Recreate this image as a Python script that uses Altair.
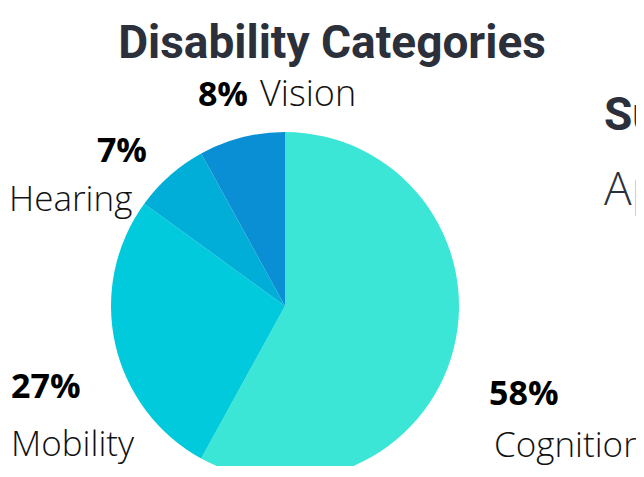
import altair as alt
import pandas as pd

categories = ["Cognition", "Mobility", "Hearing", "Vision"]
values = [58, 27, 7, 8]
pct_labels = ["58%", "27%", "7%", "8%"]
colors = ["#3CE6D6", "#00CADB", "#01AED8", "#0A8FD5"]
title_text = "Disability Categories"
side_texts = ["Su", "Ap"]

df = pd.DataFrame({"category": categories, "value": values, "order": list(range(len(values)))})

OX, OY = 8, 8  # page margin offset

pie = alt.Chart(df).mark_arc(radius=174).encode(
    theta=alt.Theta("value:Q", stack=True),
    order=alt.Order("order:Q"),
    color=alt.Color("category:N", scale=alt.Scale(domain=categories, range=colors), legend=None),
    x=alt.value(285 - OX),
    y=alt.value(306 - OY),
)

base = alt.Chart(pd.DataFrame({"a": [0]}))

def txt(text, x, y, size, weight="normal", font="Open Sans", color="#111111", align="left"):
    return base.mark_text(
        text=text, font=font, fontSize=size, fontWeight=weight, color=color,
        align=align, baseline="alphabetic",
    ).encode(x=alt.value(x - OX), y=alt.value(y - OY))

layers = [
    pie,
    txt(title_text, 332, 58, 46, "bold", "Roboto", "#2B303B", "center"),
    txt(pct_labels[3], 248, 106, 34, "bold", color="#000000", align="right"),
    txt(categories[3], 260, 106, 36, 300, color="#111111"),
    txt(pct_labels[2], 147, 162, 34, "bold", color="#000000", align="right"),
    txt(categories[2], 9, 211, 35, 300),
    txt(pct_labels[1], 11, 398, 34, "bold", color="#000000"),
    txt(categories[1], 11, 456, 35, 300),
    txt(pct_labels[0], 489, 405, 34, "bold", color="#000000"),
    txt(categories[0], 494, 457, 35, 300),
    txt(side_texts[0], 604, 130, 46, "bold", "Roboto", "#2B303B"),
    txt(side_texts[1], 604, 205, 46, 300, "Open Sans", "#2B303B"),
]

chart = alt.layer(*layers).properties(
    width=628, height=458, padding=0,
    autosize=alt.AutoSizeParams(type="none"),
).configure_view(stroke=None)

chart.save("out.html", embed_options={"renderer": "svg", "actions": False})
